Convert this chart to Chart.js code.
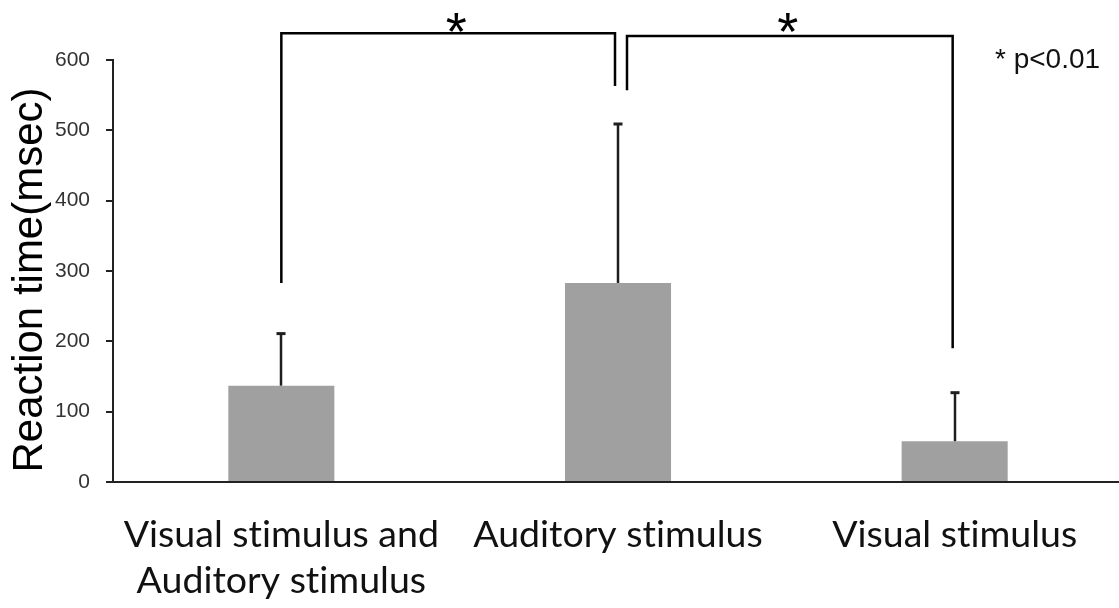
<!DOCTYPE html>
<html>
<head>
<meta charset="utf-8">
<script src="https://cdn.jsdelivr.net/npm/chart.js@4/dist/chart.umd.min.js"></script>
<style>
  html, body { margin: 0; padding: 0; background: #fff; overflow: hidden; }
  #wrap { width: 1119px; height: 608px; overflow: hidden; position: relative; }
  canvas { display: block; }
</style>
</head>
<body>
<div id="wrap"><canvas id="chart" width="1123" height="608"></canvas></div>
<script>
// Reaction time by stimulus condition (mean and SD, msec)
const categories = [['Visual stimulus and', 'Auditory stimulus'], 'Auditory stimulus', 'Visual stimulus'];
const meanReaction = [137, 283, 58];
const sdReaction = [74, 226, 69];
const yTicks = [0, 100, 200, 300, 400, 500, 600];
const yTitle = 'Reaction time(msec)';

// Significance brackets: which bars they join, where each leg stops, and the bracket height (msec)
const sigFrom = [0, 1];
const sigTo = [1, 2];
const sigLeftLegEnd = [283, 557];
const sigRightLegEnd = [563, 190];
const sigLevel = [638, 634];
const sigMark = ['*', '*'];
const noteText = '* p<0.01';

const ARIAL = '"Liberation Sans", Arial, sans-serif';
const LABEL_FONT = 'Lato, "Open Sans", sans-serif';

// Plain glyphs for the category labels (no "ti" ligature)
const plainText = {
  id: 'plainText',
  beforeDraw(chart) {
    if ('textRendering' in chart.ctx) chart.ctx.textRendering = 'optimizeSpeed';
  }
};

// Upward-only error bars with a small cap
const errorBars = {
  id: 'errorBars',
  afterDatasetsDraw(chart) {
    const { ctx, scales: { y } } = chart;
    const meta = chart.getDatasetMeta(0);
    ctx.save();
    ctx.strokeStyle = '#1e1e1e';
    meta.data.forEach((bar, i) => {
      const x = Math.round(bar.x);
      const yBase = y.getPixelForValue(meanReaction[i]);
      const yTop = y.getPixelForValue(meanReaction[i] + sdReaction[i]);
      ctx.lineWidth = 2.5;
      ctx.beginPath();
      ctx.moveTo(x, yBase);
      ctx.lineTo(x, yTop);
      ctx.stroke();
      ctx.lineWidth = 3;
      ctx.beginPath();
      ctx.moveTo(x - 4.5, yTop);
      ctx.lineTo(x + 4.5, yTop);
      ctx.stroke();
    });
    ctx.restore();
  }
};

// Rotated y-axis title, significance brackets with asterisks, and the p-value note
const annotations = {
  id: 'annotations',
  afterDraw(chart, args, opts) {
    const { ctx, scales: { y } } = chart;
    const meta = chart.getDatasetMeta(0);
    ctx.save();

    ctx.save();
    ctx.translate(opts.titleX, opts.titleY);
    ctx.rotate(-Math.PI / 2);
    ctx.font = opts.titleSize + 'px ' + ARIAL;
    ctx.fillStyle = '#000';
    ctx.textAlign = 'center';
    ctx.textBaseline = 'middle';
    ctx.fillText(yTitle, 0, 0);
    ctx.restore();

    ctx.strokeStyle = '#000';
    ctx.lineWidth = 2.5;
    ctx.lineJoin = 'miter';
    sigFrom.forEach((from, k) => {
      const to = sigTo[k];
      const xl = meta.data[from].x + opts.legShift[k][0];
      const xr = meta.data[to].x + opts.legShift[k][1];
      const yt = y.getPixelForValue(sigLevel[k]);
      ctx.beginPath();
      ctx.moveTo(xl, y.getPixelForValue(sigLeftLegEnd[k]));
      ctx.lineTo(xl, yt);
      ctx.lineTo(xr, yt);
      ctx.lineTo(xr, y.getPixelForValue(sigRightLegEnd[k]));
      ctx.stroke();

      // asterisk sized by its ink width, centred above the bracket
      ctx.font = '100px ' + ARIAL;
      const m = ctx.measureText(sigMark[k]);
      const inkW = m.actualBoundingBoxLeft + m.actualBoundingBoxRight;
      const size = 100 * opts.markWidth / inkW;
      ctx.font = size + 'px ' + ARIAL;
      const mm = ctx.measureText(sigMark[k]);
      const cx = (xl + xr) / 2 + opts.markShift[k];
      const baseY = opts.markCenterY + (mm.actualBoundingBoxAscent - mm.actualBoundingBoxDescent) / 2;
      const baseX = cx - (mm.actualBoundingBoxRight - mm.actualBoundingBoxLeft) / 2;
      ctx.fillStyle = '#000';
      ctx.textAlign = 'left';
      ctx.textBaseline = 'alphabetic';
      ctx.fillText(sigMark[k], baseX, baseY);
    });

    ctx.font = opts.noteSize + 'px ' + ARIAL;
    ctx.fillStyle = '#111';
    ctx.textAlign = 'left';
    ctx.textBaseline = 'alphabetic';
    ctx.fillText(noteText, opts.noteX, opts.noteY);
    ctx.restore();
  }
};

new Chart(document.getElementById('chart'), {
  type: 'bar',
  data: {
    labels: categories,
    datasets: [{
      data: meanReaction,
      backgroundColor: '#a0a0a0',
      borderWidth: 0,
      categoryPercentage: 1,
      barPercentage: 0.315
    }]
  },
  options: {
    responsive: false,
    animation: false,
    devicePixelRatio: 1,
    layout: { padding: { top: 60, left: 0, right: 0, bottom: 0 } },
    plugins: {
      legend: { display: false },
      tooltip: { enabled: false },
      annotations: {
        titleX: 30,
        titleY: 280,
        titleSize: 42,
        legShift: [[0, -3], [9, -2]],
        markShift: [8, -2],
        markWidth: 20,
        markCenterY: 22,
        noteX: 995,
        noteY: 68,
        noteSize: 28
      }
    },
    scales: {
      x: {
        grid: { display: false },
        border: { display: true, color: '#222', width: 2 },
        ticks: {
          color: '#111',
          font: { family: LABEL_FONT, size: 37.5, lineHeight: 1.227 },
          padding: 22,
          maxRotation: 0,
          autoSkip: false
        },
        afterFit(scale) { scale.height = 126; }
      },
      y: {
        min: 0,
        max: 600,
        afterBuildTicks(scale) { scale.ticks = yTicks.map(v => ({ value: v })); },
        grid: { drawOnChartArea: false, tickLength: 7, color: '#222', lineWidth: 2 },
        border: { display: true, color: '#222', width: 2 },
        ticks: {
          color: '#333',
          font: { family: ARIAL, size: 21 },
          padding: 16
        },
        afterFit(scale) { scale.width = 113; }
      }
    }
  },
  plugins: [plainText, errorBars, annotations]
});
</script>
</body>
</html>
